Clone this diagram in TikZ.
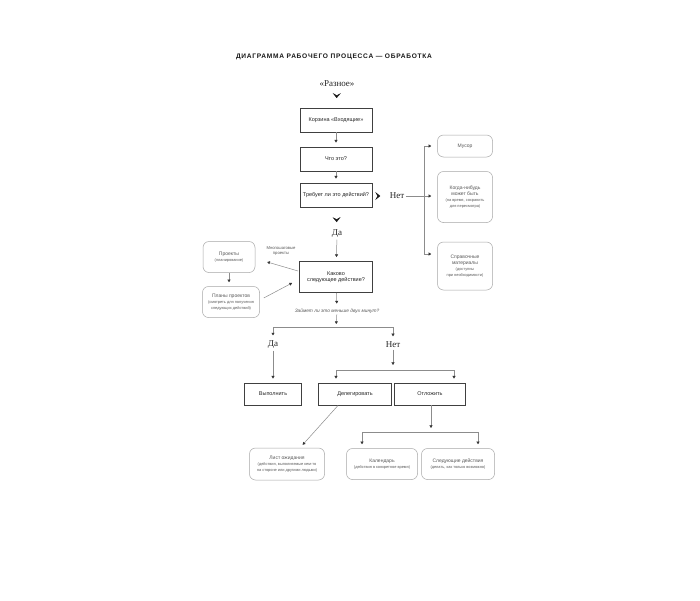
\documentclass[tikz,border=0pt]{standalone}
\usepackage{fontspec}
\setmainfont{Liberation Serif}
\newfontfamily\boxfont{Liberation Sans}
\newfontfamily\titlefont[LetterSpace=11]{Liberation Sans}
\usetikzlibrary{arrows.meta,decorations.markings}

\begin{document}
\begin{tikzpicture}[x=1pt,y=-1pt,
  mainbox/.style={draw=black!75, line width=0.9pt, minimum height=24,
    inner sep=1pt, align=center, text=black!85,
    font=\boxfont\fontsize{5.5}{6.6}\selectfont},
  softbox/.style={draw=black!35, line width=0.5pt, rounded corners=6pt,
    inner sep=1pt, align=center, text=black!65,
    font=\boxfont\fontsize{5}{6}\selectfont},
  bigword/.style={font=\fontsize{9}{10}\selectfont, text=black!85, inner sep=1.5pt},
  note/.style={align=center, text=black!65, inner sep=1pt,
    font=\boxfont\fontsize{4.2}{5}\selectfont},
  line/.style={draw=black!45, line width=0.5pt},
  arr/.style={line, -{Triangle[length=2.6pt,width=3pt,color=black!80]},
    shorten >=4pt},
  chev/.style={decoration={markings, mark=at position #1 with
      {\arrow{Stealth[length=5pt,width=8pt,inset=2.2pt,color=black!90]}}},
    postaction=decorate},
  chev/.default=0.5]

  \def\subf{\fontsize{3.9}{4.9}\selectfont}

  \fill[white] (0,0) rectangle (700,600);
  \useasboundingbox (0,0) rectangle (700,600);

  % title
  \node[text=black!90] (title) at (334,57)
    {\titlefont\bfseries\fontsize{6.6}{7}\selectfont ДИАГРАММА РАБОЧЕГО ПРОЦЕССА — ОБРАБОТКА};

  % main column
  \node[bigword] (stuff) at (337,84) {«Разное»};
  \node[mainbox, minimum width=72] (inbox) at (336,120) {Корзина «Входящие»};
  \node[mainbox, minimum width=72] (what) at (336,159) {Что это?};
  \node[mainbox, minimum width=72] (actq) at (336,195) {Требует ли это действий?};
  \node[bigword] (no1) at (397,196) {Нет};
  \node[bigword] (yes1) at (337,234) {Да};
  \node[mainbox, minimum width=73, minimum height=31] (nextq) at (336,277)
    {Каково\\следующее действие?};

  % no action
  \node[softbox, minimum width=55, minimum height=22] (trash) at (465,146) {Мусор};
  \node[softbox, minimum width=55, minimum height=51] (someday) at (465,197)
    {Когда-нибудь\\может быть\\\subf(на время, сохранить\\\subf для пересмотра)};
  \node[softbox, minimum width=55, minimum height=48] (refs) at (465,266)
    {Справочные\\материалы\\\subf(доступны\\\subf при необходимости)};

  % projects
  \node[softbox, minimum width=52, minimum height=31] (proj) at (229,257)
    {Проекты\\\subf(планирование)};
  \node[softbox, minimum width=57, minimum height=31] (plans) at (231,302)
    {Планы проектов\\\subf(смотреть для получения\\\subf следующих действий)};
  \node[note] (multi) at (281,251) {Многошаговые\\проекты};

  % two minutes
  \node[note, font=\boxfont\itshape\fontsize{4.8}{5.5}\selectfont] (twomin) at (337,311)
    {Займет ли это меньше двух минут?};
  \node[bigword] (yes2) at (273,345) {Да};
  \node[bigword] (no2) at (393,345) {Нет};
  \node[mainbox, minimum width=57, minimum height=22] (doit) at (273,394) {Выполнить};
  \node[mainbox, minimum width=73, minimum height=22] (deleg) at (355,394) {Делегировать};
  \node[mainbox, minimum width=71, minimum height=22] (defer) at (430,394) {Отложить};

  % lists
  \node[softbox, minimum width=75, minimum height=32] (waiting) at (287,464)
    {Лист ожидания\\\subf(действия, выполняемые кем-то\\\subf на стороне или другими людьми)};
  \node[softbox, minimum width=71, minimum height=31] (cal) at (382,464)
    {Календарь\\\subf(действия в конкретное время)};
  \node[softbox, minimum width=73, minimum height=31] (nexta) at (458,464)
    {Следующие действия\\\subf(делать, как только возможно)};

  % connectors
  \path[chev] (stuff) -- (inbox);
  \draw[arr] (inbox) -- (what);
  \draw[arr] (what) -- (actq);
  \path[chev] (actq.east |- no1) -- (no1.west);
  \path[chev=0.7] (actq) -- (yes1);
  \draw[arr] (yes1) -- (nextq);

  \coordinate (nosplit) at (424,196);
  \coordinate (ntop) at (424,146);
  \coordinate (nbot) at (424,254);
  \draw[line] (no1) -- (nosplit);
  \draw[line] (ntop) -- (nbot);
  \draw[arr, shorten >=6pt] (ntop) -- (trash);
  \draw[arr, shorten >=6pt] (nosplit) -- (someday.west |- nosplit);
  \draw[arr, shorten >=6pt] (nbot) -- (refs.west |- nbot);

  \draw[arr, shorten >=0pt] ([xshift=-1,yshift=6]nextq.west) -- ([xshift=12,yshift=-5]proj.east);
  \draw[arr, shorten >=0pt] ([xshift=4,yshift=4]plans.east) -- ([xshift=-7,yshift=-6]nextq.west);
  \draw[arr] (proj.south) -- (proj.south |- plans.north);

  \draw[arr] (nextq) -- (twomin);
  \coordinate (split1) at (336,327);
  \draw[arr, shorten >=3pt] (twomin) -- (split1);
  \draw[arr] (split1) -| (yes2);
  \draw[arr] (split1) -| (no2);
  \draw[arr] (yes2) -- (doit);

  \coordinate (split2) at (393,370);
  \coordinate (dl) at (336,370);
  \coordinate (dr) at (454,370);
  \draw[arr, shorten >=5pt] (no2) -- (split2);
  \draw[line] (dl) -- (dr);
  \draw[arr] (dl) -- (dl |- deleg.north);
  \draw[arr] (dr) -- (dr |- defer.north);

  \draw[arr] ([xshift=-17]deleg.south) -- ([xshift=13]waiting.north);

  \coordinate (split3) at (431,432);
  \coordinate (cl) at (362,432);
  \coordinate (cr) at (478,432);
  \draw[arr] (defer.south -| split3) -- (split3);
  \draw[line] (cl) -- (cr);
  \draw[arr] (cl) -- (cl |- cal.north);
  \draw[arr] (cr) -- (cr |- nexta.north);

\end{tikzpicture}
\end{document}
